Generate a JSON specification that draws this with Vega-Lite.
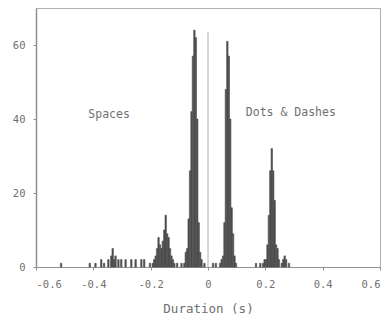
{
  "$schema": "https://vega.github.io/schema/vega-lite/v6.json",
  "width": 344,
  "height": 259,
  "autosize": "none",
  "padding": {"left": 36, "top": 8, "right": 8, "bottom": 51},
  "background": "white",
  "config": {
    "view": {"stroke": "#b0b0b0", "strokeWidth": 1},
    "font": "DejaVu Sans Mono",
    "axis": {"labelFont": "DejaVu Sans Mono", "titleFont": "DejaVu Sans Mono", "labelColor": "#707070", "titleColor": "#707070", "domainColor": "#909090", "tickColor": "#909090", "grid": false, "labelFontSize": 10.5, "titleFontWeight": "normal"}
  },
  "datasets": {
    "bins": [
      {"a": -0.515, "b": -0.51, "n": 1},
      {"a": -0.415, "b": -0.41, "n": 1},
      {"a": -0.395, "b": -0.39, "n": 1},
      {"a": -0.375, "b": -0.37, "n": 2},
      {"a": -0.365, "b": -0.36, "n": 1},
      {"a": -0.35, "b": -0.345, "n": 2},
      {"a": -0.34, "b": -0.335, "n": 3},
      {"a": -0.335, "b": -0.33, "n": 5},
      {"a": -0.33, "b": -0.325, "n": 2},
      {"a": -0.325, "b": -0.32, "n": 3},
      {"a": -0.315, "b": -0.31, "n": 2},
      {"a": -0.305, "b": -0.3, "n": 2},
      {"a": -0.29, "b": -0.285, "n": 2},
      {"a": -0.27, "b": -0.265, "n": 2},
      {"a": -0.255, "b": -0.25, "n": 2},
      {"a": -0.235, "b": -0.23, "n": 2},
      {"a": -0.225, "b": -0.22, "n": 2},
      {"a": -0.205, "b": -0.2, "n": 1},
      {"a": -0.195, "b": -0.19, "n": 1},
      {"a": -0.19, "b": -0.185, "n": 2},
      {"a": -0.185, "b": -0.18, "n": 3},
      {"a": -0.18, "b": -0.175, "n": 5},
      {"a": -0.175, "b": -0.17, "n": 8},
      {"a": -0.17, "b": -0.165, "n": 6},
      {"a": -0.165, "b": -0.16, "n": 5},
      {"a": -0.16, "b": -0.155, "n": 7},
      {"a": -0.155, "b": -0.15, "n": 10},
      {"a": -0.15, "b": -0.145, "n": 14},
      {"a": -0.145, "b": -0.14, "n": 9},
      {"a": -0.14, "b": -0.135, "n": 8},
      {"a": -0.135, "b": -0.13, "n": 5},
      {"a": -0.13, "b": -0.125, "n": 3},
      {"a": -0.125, "b": -0.12, "n": 2},
      {"a": -0.12, "b": -0.115, "n": 1},
      {"a": -0.11, "b": -0.105, "n": 1},
      {"a": -0.095, "b": -0.09, "n": 1},
      {"a": -0.085, "b": -0.08, "n": 1},
      {"a": -0.08, "b": -0.075, "n": 4},
      {"a": -0.075, "b": -0.07, "n": 5},
      {"a": -0.07, "b": -0.065, "n": 13},
      {"a": -0.065, "b": -0.06, "n": 26},
      {"a": -0.06, "b": -0.055, "n": 42},
      {"a": -0.055, "b": -0.05, "n": 57},
      {"a": -0.05, "b": -0.045, "n": 64},
      {"a": -0.045, "b": -0.04, "n": 62},
      {"a": -0.04, "b": -0.035, "n": 40},
      {"a": -0.035, "b": -0.03, "n": 12},
      {"a": -0.03, "b": -0.025, "n": 4},
      {"a": -0.025, "b": -0.02, "n": 2},
      {"a": -0.015, "b": -0.01, "n": 1},
      {"a": 0.015, "b": 0.02, "n": 1},
      {"a": 0.025, "b": 0.03, "n": 1},
      {"a": 0.04, "b": 0.045, "n": 1},
      {"a": 0.045, "b": 0.05, "n": 2},
      {"a": 0.05, "b": 0.055, "n": 3},
      {"a": 0.055, "b": 0.06, "n": 12},
      {"a": 0.06, "b": 0.065, "n": 48},
      {"a": 0.065, "b": 0.07, "n": 61},
      {"a": 0.07, "b": 0.075, "n": 57},
      {"a": 0.075, "b": 0.08, "n": 40},
      {"a": 0.08, "b": 0.085, "n": 16},
      {"a": 0.085, "b": 0.09, "n": 9},
      {"a": 0.09, "b": 0.095, "n": 3},
      {"a": 0.095, "b": 0.1, "n": 1},
      {"a": 0.165, "b": 0.17, "n": 1},
      {"a": 0.18, "b": 0.185, "n": 1},
      {"a": 0.19, "b": 0.195, "n": 1},
      {"a": 0.195, "b": 0.2, "n": 2},
      {"a": 0.2, "b": 0.205, "n": 2},
      {"a": 0.205, "b": 0.21, "n": 6},
      {"a": 0.21, "b": 0.215, "n": 14},
      {"a": 0.215, "b": 0.22, "n": 26},
      {"a": 0.22, "b": 0.225, "n": 32},
      {"a": 0.225, "b": 0.23, "n": 26},
      {"a": 0.23, "b": 0.235, "n": 18},
      {"a": 0.235, "b": 0.24, "n": 6},
      {"a": 0.24, "b": 0.245, "n": 5},
      {"a": 0.245, "b": 0.25, "n": 2},
      {"a": 0.255, "b": 0.26, "n": 1},
      {"a": 0.26, "b": 0.265, "n": 2},
      {"a": 0.265, "b": 0.27, "n": 3},
      {"a": 0.27, "b": 0.275, "n": 2},
      {"a": 0.28, "b": 0.285, "n": 1}
    ],
    "zero": [{"a": 0, "n": 63.5}],
    "labels": [
      {"a": -0.345, "n": 41.2, "text": "Spaces"},
      {"a": 0.289, "n": 41.7, "text": "Dots & Dashes"}
    ]
  },
  "layer": [
    {
      "data": {"name": "bins"},
      "mark": {"type": "bar", "color": "#4d4d4d", "stroke": "#4d4d4d", "strokeWidth": 0.6},
      "encoding": {
        "x": {"field": "a", "type": "quantitative",
          "scale": {"domain": [-0.6, 0.6], "nice": false, "zero": false},
          "axis": {"values": [-0.6, -0.4, -0.2, 0, 0.2, 0.4, 0.6], "title": "Duration (s)", "titleFontSize": 12.5, "labelPadding": 9, "titlePadding": 13, "tickSize": 3,
            "labelExpr": "datum.value == 0 ? '0' : (datum.value < 0 ? '-' : '') + format(abs(datum.value), '.1f')"}},
        "x2": {"field": "b"},
        "y": {"field": "n", "type": "quantitative",
          "scale": {"domain": [0, 70], "nice": false},
          "axis": {"values": [0, 20, 40, 60], "title": null, "labelPadding": 8, "tickSize": 3, "domainWidth": 1.5}},
        "y2": {"datum": 0}
      }
    },
    {
      "data": {"name": "zero"},
      "mark": {"type": "rule", "color": "#b0b0b0", "strokeWidth": 1},
      "encoding": {
        "x": {"field": "a", "type": "quantitative"},
        "y": {"field": "n", "type": "quantitative"},
        "y2": {"datum": 0}
      }
    },
    {
      "data": {"name": "labels"},
      "mark": {"type": "text", "font": "DejaVu Sans Mono", "fontSize": 11.5, "color": "#707070"},
      "encoding": {
        "x": {"field": "a", "type": "quantitative"},
        "y": {"field": "n", "type": "quantitative"},
        "text": {"field": "text"}
      }
    }
  ]
}
